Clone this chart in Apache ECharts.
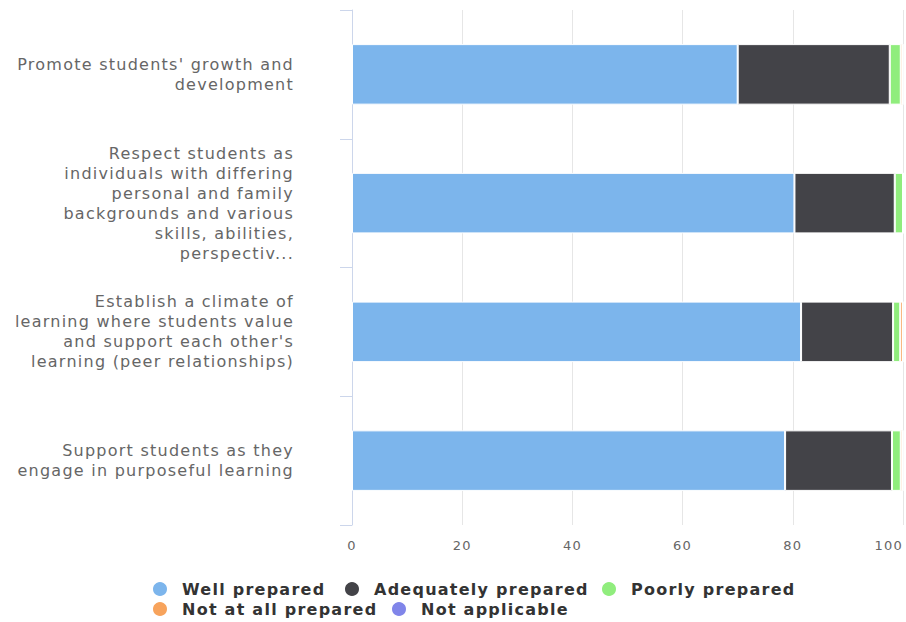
<!DOCTYPE html>
<html>
<head>
<meta charset="utf-8">
<script src="https://cdn.jsdelivr.net/npm/echarts@6/dist/echarts.min.js"></script>
<style>
html,body{margin:0;padding:0;background:#fff}
#c{width:906px;height:622px}
#c svg text{letter-spacing:1.25px !important}
</style>
</head>
<body>
<div id="c"></div>
<script>
var categories = [
  "Promote students' growth and\ndevelopment",
  "Respect students as\nindividuals with differing\npersonal and family\nbackgrounds and various\nskills, abilities,\nperspectiv...",
  "Establish a climate of\nlearning where students value\nand support each other's\nlearning (peer relationships)",
  "Support students as they\nengage in purposeful learning"
];
var seriesNames = ["Well prepared", "Adequately prepared", "Poorly prepared", "Not at all prepared", "Not applicable"];
var wellPrepared = [70.0, 80.3, 81.5, 78.6];
var adequatelyPrepared = [27.6, 18.2, 16.7, 19.4];
var poorlyPrepared = [2.0, 1.5, 1.3, 1.6];
var notAtAllPrepared = [0.4, 0, 0.5, 0.4];
var notApplicable = [0, 0, 0, 0];
var xTicks = [0, 20, 40, 60, 80, 100];

var colors = ["#7cb5ec", "#434348", "#90ed7d", "#f7a35c", "#8085e9"];
var values = [wellPrepared, adequatelyPrepared, poorlyPrepared, notAtAllPrepared, notApplicable];
var FONT = '"DejaVu Sans", Verdana, sans-serif';

// legend item placement (layout only)
var legendPos = [[151, 580], [343, 580], [600, 580], [151, 600], [390, 600]];
var legends = seriesNames.map(function (n, i) {
  return {
    data: [n], left: legendPos[i][0], top: legendPos[i][1],
    icon: 'circle', itemWidth: 16, itemHeight: 16, padding: 0,
    textStyle: { color: '#333333', fontWeight: 'bold', fontSize: 16, fontFamily: FONT, padding: [0, 0, 0, 9] }
  };
});

var chart = echarts.init(document.getElementById('c'), null, { renderer: 'svg' });
chart.setOption({
  animation: false,
  color: colors,
  grid: { left: 352, right: 3, top: 10, bottom: 97, containLabel: false, outerBoundsMode: 'none' },
  xAxis: {
    type: 'value', min: xTicks[0], max: xTicks[xTicks.length - 1], interval: 20,
    axisLine: { show: false },
    axisTick: { show: false },
    splitLine: { lineStyle: { color: '#e6e6e6', width: 1 } },
    axisLabel: { color: '#666666', fontSize: 13, fontFamily: FONT, margin: 14, alignMaxLabel: 'right' }
  },
  yAxis: {
    type: 'category', data: categories, inverse: true,
    axisLine: { lineStyle: { color: '#ccd6eb' } },
    axisTick: { show: true, length: 12, lineStyle: { color: '#ccd6eb' } },
    axisLabel: { color: '#666666', fontSize: 16, fontFamily: FONT, lineHeight: 20, margin: 58, align: 'right' }
  },
  legend: legends,
  series: seriesNames.map(function (n, i) {
    return {
      name: n, type: 'bar', stack: 'total', barWidth: '47%',
      itemStyle: { borderColor: '#ffffff', borderWidth: 1 },
      data: values[i]
    };
  })
});
</script>
</body>
</html>
